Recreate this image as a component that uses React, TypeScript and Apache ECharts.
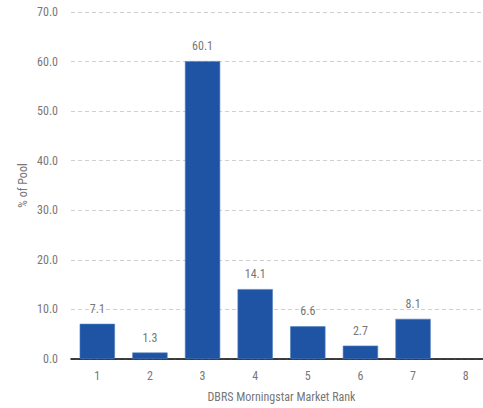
import React, { useEffect, useRef } from "react";
import * as echarts from "echarts";

const ranks = ["1", "2", "3", "4", "5", "6", "7", "8"];
const poolShare = [7.1, 1.3, 60.1, 14.1, 6.6, 2.7, 8.1, null];
const yMin = 0;
const yMax = 70;
const yStep = 10;

const FONT = "'Roboto Condensed', 'Liberation Sans Narrow', 'DejaVu Sans Condensed', Roboto, sans-serif";

export default function App() {
  const ref = useRef<HTMLDivElement>(null);

  useEffect(() => {
    if (!ref.current) return;
    const chart = echarts.init(ref.current, null, { renderer: "svg" });
    chart.setOption({
      animation: false,
      backgroundColor: "#ffffff",
      textStyle: { fontFamily: FONT },
      grid: { left: 71, right: 8, top: 12, bottom: 40, containLabel: false },
      xAxis: {
        type: "category",
        data: ranks,
        name: "DBRS Morningstar Market Rank",
        nameLocation: "middle",
        nameGap: 32,
        nameMoveOverlap: false,
        nameTextStyle: { color: "#777777", fontSize: 12, fontFamily: FONT },
        axisLine: { lineStyle: { color: "#000000", width: 1.5 } },
        axisTick: { show: false },
        axisLabel: { color: "#777777", fontSize: 12, margin: 11, fontFamily: FONT },
      },
      yAxis: {
        type: "value",
        min: yMin,
        max: yMax,
        interval: yStep,
        name: "% of Pool",
        nameLocation: "middle",
        nameGap: 42,
        nameMoveOverlap: false,
        nameTextStyle: { color: "#777777", fontSize: 12, fontFamily: FONT },
        axisLine: { show: false },
        axisTick: { show: false },
        axisLabel: {
          color: "#777777",
          fontSize: 12,
          margin: 13,
          fontFamily: FONT,
          formatter: (v: number) => v.toFixed(1),
        },
        splitLine: { lineStyle: { color: "#d0d0d0", type: [4, 3], width: 1 } },
      },
      series: [
        {
          type: "bar",
          data: poolShare,
          barWidth: "67%",
          itemStyle: { color: "#1f54a4", borderColor: "#4f7dbf", borderWidth: 0.6 },
          label: {
            show: true,
            position: "top",
            distance: 9,
            color: "#777777",
            fontSize: 12,
            fontFamily: FONT,
            formatter: (p: any) => (p.value == null ? "" : Number(p.value).toFixed(1)),
          },
        },
      ],
    });
    return () => chart.dispose();
  }, []);

  return (
    <div
      style={{
        position: "fixed",
        left: 0,
        top: 0,
        width: 483,
        height: 408,
        overflow: "hidden",
        background: "#ffffff",
      }}
    >
      <div ref={ref} style={{ width: 500, height: 408 }} />
    </div>
  );
}
